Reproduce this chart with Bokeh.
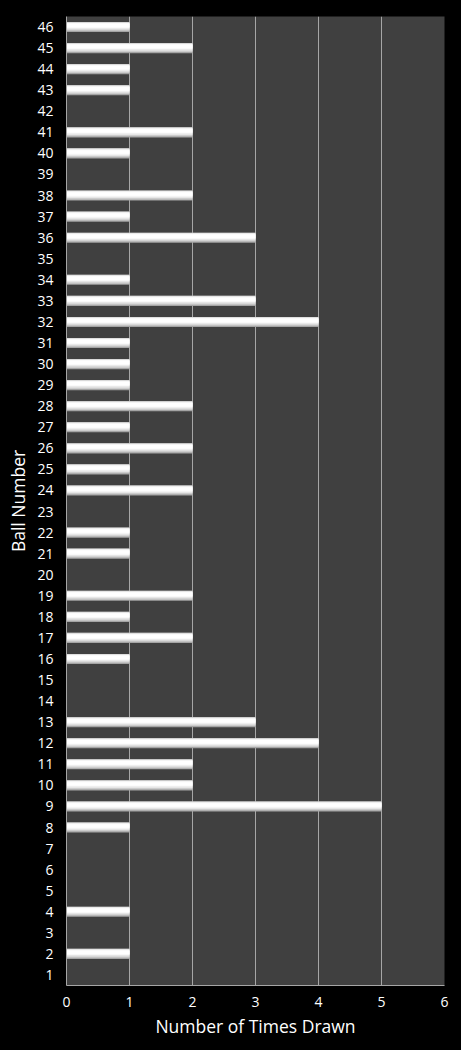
from bokeh.plotting import figure
from bokeh.models import Range1d, FixedTicker, ColumnDataSource
from bokeh.embed import file_html
from bokeh.resources import INLINE

balls = list(range(1, 47))
times_drawn = [0, 1, 0, 1, 0, 0, 0, 1, 5, 2,
               2, 4, 3, 0, 0, 1, 2, 1, 2, 0,
               1, 1, 0, 2, 1, 2, 1, 2, 1, 1,
               1, 4, 3, 1, 0, 3, 1, 2, 0, 1,
               2, 0, 1, 1, 2, 1]
x_ticks = [0, 1, 2, 3, 4, 5, 6]

p = figure(width=461, height=1050, output_backend="svg", toolbar_location=None,
           x_range=Range1d(0, 6), y_range=Range1d(0.5, 46.5),
           min_border_left=66, min_border_right=17, min_border_top=16, min_border_bottom=65)

p.background_fill_color = "#404040"
p.border_fill_color = "black"
p.outline_line_color = None

# shaded bars: layered bands for a cylindrical look
BAR_H = 0.48
bands = [(0.0, 1.0, "#a4a4a4"),
         (0.12, 1.0, "#cccccc"),
         (0.25, 0.96, "#e6e6e6"),
         (0.38, 0.90, "#f8f8f8"),
         (0.48, 0.82, "#ffffff")]
for lo, hi, col in bands:
    src = ColumnDataSource(dict(
        y=[b - BAR_H / 2 + BAR_H * (lo + hi) / 2 for b in balls],
        x=times_drawn))
    p.hbar(y="y", right="x", left=0, height=BAR_H * (hi - lo), source=src,
           fill_color=col, line_color=None)

p.xaxis.ticker = FixedTicker(ticks=x_ticks)
p.yaxis.ticker = FixedTicker(ticks=balls)

p.xgrid.grid_line_color = "#a6a6a6"
p.xgrid.grid_line_width = 1
p.ygrid.grid_line_color = None

for ax in (p.xaxis[0], p.yaxis[0]):
    ax.axis_line_color = "#a6a6a6"
    ax.major_tick_line_color = None
    ax.minor_tick_line_color = None
    ax.major_tick_out = 0
    ax.major_tick_in = 0
    ax.minor_tick_out = 0
    ax.major_label_text_color = "white"
    ax.major_label_text_font = "Open Sans"
    ax.major_label_text_font_size = "14px"
    ax.axis_label_text_color = "white"
    ax.axis_label_text_font = "Open Sans"
    ax.axis_label_text_font_style = "normal"
    ax.axis_label_text_font_size = "17.5px"

p.xaxis.axis_label = "Number of Times Drawn"
p.yaxis.axis_label = "Ball Number"
p.xaxis.major_label_standoff = 11
p.yaxis.major_label_standoff = 13
p.xaxis.axis_label_standoff = 4
p.yaxis.axis_label_standoff = 4

html = file_html(p, INLINE)
html = html.replace("</head>", "<style>html, body { background-color: #000; }</style></head>", 1)
open("out.html", "w").write(html)
